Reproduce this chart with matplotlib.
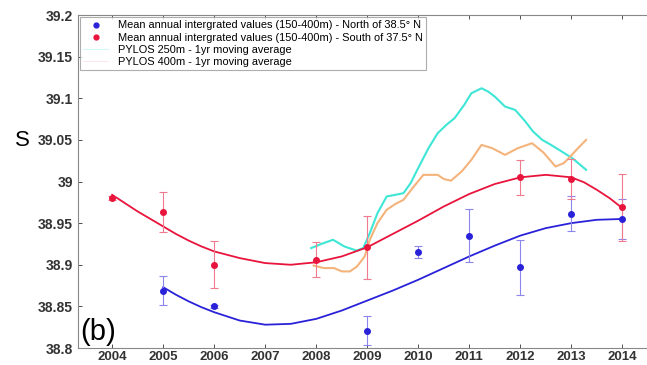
import matplotlib
matplotlib.use("Agg")
import matplotlib.pyplot as plt

# South of 37.5N (red)
south_years = [2004, 2005, 2006, 2008, 2009, 2012, 2013, 2014]
south_vals = [38.980, 38.963, 38.900, 38.906, 38.921, 39.005, 39.003, 38.969]
south_err = [0.002, 0.024, 0.028, 0.021, 0.038, 0.021, 0.024, 0.040]

# North of 38.5N (blue)
north_years = [2005, 2006, 2009, 2010, 2011, 2012, 2013, 2014]
north_vals = [38.869, 38.850, 38.821, 38.915, 38.935, 38.897, 38.961, 38.955]
north_err = [0.017, 0.002, 0.017, 0.007, 0.032, 0.033, 0.021, 0.024]

# Fitted curves
south_fit_x = [2004, 2004.25, 2004.5, 2004.75, 2005, 2005.25, 2005.5, 2005.75, 2006, 2006.5, 2007,
               2007.5, 2008, 2008.5, 2009, 2009.5, 2010, 2010.5, 2011, 2011.5, 2012, 2012.5,
               2013, 2013.25, 2013.5, 2013.75, 2014]
south_fit_y = [38.984, 38.974, 38.964, 38.955, 38.946, 38.937, 38.929, 38.922, 38.916, 38.908, 38.902,
               38.900, 38.903, 38.910, 38.921, 38.937, 38.953, 38.970, 38.985, 38.997, 39.005, 39.008,
               39.005, 38.999, 38.990, 38.980, 38.968]
north_fit_x = [2005, 2005.25, 2005.5, 2005.75, 2006, 2006.5, 2007, 2007.5, 2008, 2008.5, 2009, 2009.5,
               2010, 2010.5, 2011, 2011.5, 2012, 2012.5, 2013, 2013.5, 2014]
north_fit_y = [38.873, 38.864, 38.856, 38.849, 38.843, 38.833, 38.828, 38.829, 38.835, 38.845,
               38.857, 38.869, 38.882, 38.896, 38.910, 38.923, 38.935, 38.944, 38.950, 38.954, 38.955]

# PYLOS 250m moving average
p250_x = [2007.9, 2008.1, 2008.33, 2008.55, 2008.79, 2008.92, 2009.05, 2009.2, 2009.38, 2009.55,
          2009.71, 2009.85, 2009.98, 2010.2, 2010.38, 2010.55, 2010.71, 2010.9, 2011.04, 2011.24,
          2011.37, 2011.5, 2011.7, 2011.9, 2012.1, 2012.25, 2012.43, 2012.6, 2012.76, 2013.02, 2013.29]
p250_y = [38.920, 38.925, 38.930, 38.922, 38.917, 38.920, 38.938, 38.962, 38.982, 38.984,
          38.986, 38.998, 39.014, 39.040, 39.058, 39.068, 39.076, 39.092, 39.106, 39.112,
          39.108, 39.102, 39.090, 39.086, 39.072, 39.060, 39.050, 39.044, 39.038, 39.028, 39.014]

# PYLOS 400m moving average
p400_x = [2007.95, 2008.15, 2008.35, 2008.5, 2008.66, 2008.8, 2008.95, 2009.05, 2009.2, 2009.38,
          2009.55, 2009.71, 2009.9, 2010.1, 2010.38, 2010.5, 2010.64, 2010.85, 2011.04, 2011.24,
          2011.45, 2011.7, 2011.95, 2012.23, 2012.45, 2012.69, 2012.85, 2012.95, 2013.1, 2013.29]
p400_y = [38.899, 38.896, 38.896, 38.892, 38.892, 38.898, 38.910, 38.930, 38.950, 38.966,
          38.973, 38.978, 38.993, 39.008, 39.008, 39.003, 39.001, 39.012, 39.026, 39.044,
          39.040, 39.032, 39.040, 39.046, 39.035, 39.018, 39.022, 39.028, 39.038, 39.050]

xticks = list(range(2004, 2015))
yticks = [38.8, 38.85, 38.9, 38.95, 39.0, 39.05, 39.1, 39.15, 39.2]
ytick_labels = ["38.8", "38.85", "38.9", "38.95", "39", "39.05", "39.1", "39.15", "39.2"]

RED = "#e8143c"
BLUE = "#2a22d8"
CYAN = "#3ee6d6"
ORANGE = "#f5b37c"

plt.rcParams['font.family'] = ['Liberation Sans', 'DejaVu Sans']

fig = plt.figure(figsize=(6.47, 3.65), dpi=100)
ax = fig.add_axes([78/647, 1 - 348/365, (647 - 78)/647 + 0.01, (348 - 15)/365])

ax.plot(p250_x, p250_y, color=CYAN, lw=1.5, zorder=3)
ax.plot(p400_x, p400_y, color=ORANGE, lw=1.5, zorder=3)
ax.plot(south_fit_x, south_fit_y, color=RED, lw=1.3, zorder=4)
ax.plot(north_fit_x, north_fit_y, color=BLUE, lw=1.3, zorder=4)

ax.errorbar(north_years, north_vals, yerr=north_err, fmt='o', color=BLUE, ms=4,
            ecolor="#8a86ee", elinewidth=0.8, capsize=3, capthick=0.8, zorder=5)
ax.errorbar(south_years, south_vals, yerr=south_err, fmt='o', color=RED, ms=4,
            ecolor="#f07a90", elinewidth=0.8, capsize=3, capthick=0.8, zorder=5)

# legend handles
h1, = ax.plot([], [], 'o', color=BLUE, ms=3.5)
h2, = ax.plot([], [], 'o', color=RED, ms=3.5)
h3, = ax.plot([], [], color=CYAN, lw=0.6, alpha=0.3)
h4, = ax.plot([], [], color="#f4a0b0", lw=0.6, alpha=0.3)
leg = ax.legend([h1, h2, h3, h4],
                ["Mean annual intergrated values (150-400m) - North of 38.5° N",
                 "Mean annual intergrated values (150-400m) - South of 37.5° N",
                 "PYLOS 250m - 1yr moving average",
                 "PYLOS 400m - 1yr moving average"],
                loc='upper left', bbox_to_anchor=(0.0, 1.0), fontsize=7.9, frameon=True,
                fancybox=False, edgecolor="#999999", borderpad=0.3, labelspacing=0.2,
                handlelength=2.2, handletextpad=0.9, borderaxespad=0.2)
leg.get_frame().set_linewidth(0.8)

ax.set_xlim(2003.33, 2014.61)
ax.set_ylim(38.8, 39.2)
ax.set_xticks(xticks)
ax.set_xticklabels([str(x) for x in xticks])
ax.set_yticks(yticks)
ax.set_yticklabels(ytick_labels)
ax.tick_params(direction='in', length=3, width=0.6, colors="#333333", labelsize=10,
               top=True, right=False)
ax.tick_params(axis='x', pad=2, labelsize=9.5)
for lab in ax.get_xticklabels() + ax.get_yticklabels():
    lab.set_fontweight('bold')
    lab.set_color('#333333')
for s in ['left', 'bottom', 'top']:
    ax.spines[s].set_color('#888888')
    ax.spines[s].set_linewidth(0.8)
ax.spines['right'].set_visible(False)

fig.text(22/647, 1 - 140/365, "S", fontsize=16, ha='center', va='center')
ax.text(2003.38, 38.803, "(b)", fontsize=21, ha='left', va='bottom')

fig.savefig("out.png", dpi=100)
